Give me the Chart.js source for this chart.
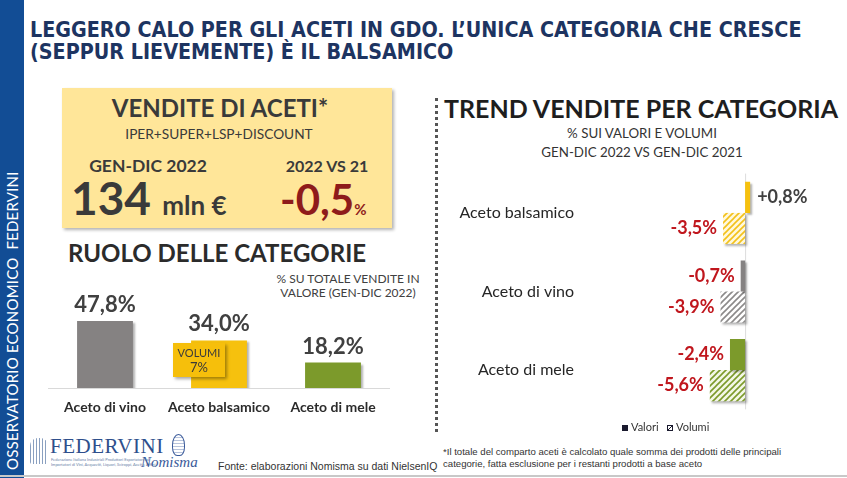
<!DOCTYPE html>
<html lang="it">
<head>
<meta charset="UTF-8">
<title>Aceti in GDO</title>
<script src="https://cdn.jsdelivr.net/npm/chart.js"></script>
<style>
    body { margin: 0; width: 847px; height: 478px; position: relative; overflow: hidden; background: #fff; font-family: Lato, "Open Sans", sans-serif; color: #3a3a3a; }
    .abs { position: absolute; white-space: nowrap; }
    .c { transform: translateX(-50%); }
    #side { left: 0; top: 0; width: 24px; height: 478px; background: #124d95; }
    #sideText { left: 12px; top: 470px; transform-origin: 0 0; transform: rotate(-90deg) translateY(-50%); color: #fff; font-size: 15px; letter-spacing: 0.2px; }
    #title { left: 30px; top: 19px; font-family: "Liberation Sans Narrow", "DejaVu Sans Condensed", sans-serif; font-weight: bold; font-size: 21.3px; line-height: 22px; color: #1d3461; }
    #box { left: 62px; top: 88px; width: 330px; height: 140px; background: #ffe699; box-shadow: 2px 2px 3px rgba(0,0,0,0.3); }
    .b { font-weight: bold; }
    #divider { left: 435px; top: 98px; height: 334px; border-left: 3px dotted #555; }
    #volumi { left: 173px; top: 343px; width: 52px; height: 34px; background: #f6bf0b; box-shadow: 2px 2px 3px rgba(0,0,0,0.35); text-align: center; font-size: 11px; line-height: 15px; color: #3a3a3a; padding-top: 2px; box-sizing: border-box; }
    #bottomLine { left: 0; top: 475px; width: 847px; height: 0; border-top: 2px solid #c8c8c8; }
    canvas { position: absolute; }
</style>
</head>
<body>
<div class="abs" id="side"></div>
<div class="abs" id="sideText">OSSERVATORIO ECONOMICO&nbsp;&nbsp;FEDERVINI</div>
<div class="abs" id="title">LEGGERO CALO PER GLI ACETI IN GDO. L’UNICA CATEGORIA CHE CRESCE<br>(SEPPUR LIEVEMENTE) È IL BALSAMICO</div>

<div class="abs" id="box"></div>
<div class="abs c b" style="left:220px; top:93px; font-size:24px;">VENDITE DI ACETI*</div>
<div class="abs c" style="left:219px; top:125px; font-size:13.7px;">IPER+SUPER+LSP+DISCOUNT</div>
<div class="abs c b" style="left:148px; top:155px; font-size:17.5px;">GEN-DIC 2022</div>
<div class="abs c b" style="left:327px; top:156px; font-size:16px;">2022 VS 21</div>
<div class="abs b" style="left:71px; top:174px; font-size:46px; line-height:48px;">134 <span style="font-size:26px;">mln €</span></div>
<div class="abs b" style="left:280px; top:176px; font-size:42px; line-height:46px; color:#8e1b1b;">-0,5<span style="font-size:15px;">%</span></div>

<div class="abs b" style="left:68px; top:238px; font-size:24px; color:#2b2b2b;">RUOLO DELLE CATEGORIE</div>
<div class="abs c" style="left:348px; top:272px; font-size:12px; line-height:14px; text-align:center; color:#404040;">% SU TOTALE VENDITE IN<br>VALORE (GEN-DIC 2022)</div>

<canvas id="shareChart" width="342" height="135" style="left:48px; top:290px; width:342px; height:135px;"></canvas>
<div class="abs" id="volumi">VOLUMI<br><span style="font-size:13px;">7%</span></div>

<div class="abs" id="divider"></div>

<div class="abs c b" style="left:641px; top:93px; font-size:25px; color:#1e1e1e;">TREND VENDITE PER CATEGORIA</div>
<div class="abs c" style="left:642px; top:124px; font-size:13.3px; line-height:19px; text-align:center; color:#333;">% SUI VALORI E VOLUMI<br>GEN-DIC 2022 VS GEN-DIC 2021</div>

<canvas id="trendChart" width="407" height="267" style="left:440px; top:157.5px; width:407px; height:267px;"></canvas>

<div class="abs" style="left:622px; top:420px; font-size:11px; color:#333;">
    <span style="display:inline-block; width:6px; height:6px; background:#1a1a2e; margin-right:3px;"></span>Valori&nbsp;&nbsp;
    <span style="display:inline-block; width:6px; height:6px; border:1px solid #1a1a2e; background:linear-gradient(135deg, #fff 40%, #1a1a2e 40%, #1a1a2e 60%, #fff 60%); box-sizing:border-box; margin-right:3px;"></span>Volumi
</div>

<div class="abs" style="left:30px; top:438px; width:18px; height:26px; background:repeating-linear-gradient(90deg, #8aa0c0 0 1px, #fff 1px 3px); border-radius:8px 8px 2px 2px;"></div>
<div class="abs" style="left:50px; top:434px; font-family:'Liberation Serif', 'DejaVu Serif', serif; font-size:21px; color:#2e4f8c; letter-spacing:0.5px;">FEDERVINI</div>
<div class="abs" style="left:51px; top:457px; font-size:4px; line-height:5px; color:#6a7fa8;">Federazione Italiana Industriali Produttori Esportatori ed<br>Importatori di Vini, Acquaviti, Liquori, Sciroppi, Aceti e Affini</div>
<div class="abs" style="left:172px; top:434px; width:11px; height:20px; border:1px solid #3a5a9a; border-radius:50% 50% 40% 40%; background:repeating-linear-gradient(0deg, #fff 0 2px, #b8c4dc 2px 3px);"></div>
<div class="abs" style="left:141px; top:454px; font-family:'Liberation Serif', 'DejaVu Serif', serif; font-style:italic; font-size:15px; color:#3a5a9a;">Nomisma</div>
<div class="abs" style="left:218px; top:460px; font-family:'Liberation Sans Narrow', sans-serif; font-size:10.5px; color:#333;">Fonte: elaborazioni Nomisma su dati NielsenIQ</div>
<div class="abs" style="left:443px; top:446px; font-family:'Liberation Sans Narrow', sans-serif; font-size:9.6px; line-height:12px; color:#333;">*Il totale del comparto aceti è calcolato quale somma dei prodotti delle principali<br>categorie, fatta esclusione per i restanti prodotti a base aceto</div>
<div class="abs" id="bottomLine"></div>

<script>
const shareCategories = ['Aceto di vino', 'Aceto balsamico', 'Aceto di mele'];
const shareValues = [47.8, 34.0, 18.2];
const shareColors = ['#858282', '#f6c10e', '#7c9a2b'];

const trendCategories = ['Aceto balsamico', 'Aceto di vino', 'Aceto di mele'];
const trendValori = [0.8, -0.7, -2.4];
const trendVolumi = [-3.5, -3.9, -5.6];
const trendColors = ['#f6c10e', '#858282', '#7c9a2b'];

function fmt(v, plus) {
    return (plus && v > 0 ? '+' : '') + v.toFixed(1).replace('.', ',') + '%';
}

function hatch(color, bg) {
    const c = document.createElement('canvas');
    c.width = 6; c.height = 6;
    const g = c.getContext('2d');
    g.fillStyle = bg;
    g.fillRect(0, 0, 6, 6);
    g.strokeStyle = color;
    g.lineWidth = 1.6;
    g.beginPath();
    g.moveTo(0, 6); g.lineTo(6, 0);
    g.moveTo(-1, 1); g.lineTo(1, -1);
    g.moveTo(5, 7); g.lineTo(7, 5);
    g.stroke();
    return g.createPattern(c, 'repeat');
}

const shadowPlugin = {
    id: 'shadow',
    beforeDatasetsDraw(chart) {
        const ctx = chart.ctx;
        ctx.save();
        ctx.shadowColor = 'rgba(0,0,0,0.3)';
        ctx.shadowOffsetX = 2;
        ctx.shadowOffsetY = 2;
        ctx.shadowBlur = 2;
    },
    afterDatasetsDraw(chart) {
        chart.ctx.restore();
    }
};

// left: share of value
new Chart(document.getElementById('shareChart'), {
    type: 'bar',
    data: {
        labels: shareCategories,
        datasets: [{ data: shareValues, backgroundColor: shareColors }]
    },
    options: {
        responsive: false,
        animation: false,
        layout: { padding: { top: 14 } },
        plugins: { legend: { display: false }, tooltip: { enabled: false } },
        datasets: { bar: { barPercentage: 0.49, categoryPercentage: 1 } },
        scales: {
            x: {
                grid: { display: false, drawTicks: false },
                border: { display: true, color: '#d9d9d9', width: 1 },
                ticks: { color: '#2b2b2b', font: { family: 'Lato', size: 14, weight: 'bold' }, padding: 11 },
                afterFit(s) { s.height = 37; }
            },
            y: { display: false, min: 0, max: 60 }
        }
    },
    plugins: [shadowPlugin, {
        id: 'shareLabels',
        afterDatasetsDraw(chart) {
            const ctx = chart.ctx;
            ctx.save();
            ctx.font = 'bold 22px Lato';
            ctx.fillStyle = '#404040';
            ctx.textAlign = 'center';
            ctx.textBaseline = 'bottom';
            chart.getDatasetMeta(0).data.forEach((bar, i) => {
                ctx.fillText(fmt(shareValues[i]), bar.x, bar.y - 5);
            });
            ctx.restore();
        }
    }]
});

// right: trend values & volumes
const volumiPatterns = [hatch('#f3c11a', '#fff8dc'), hatch('#8c8a8a', '#ffffff'), hatch('#7c9a2b', '#f3f7e6')];

new Chart(document.getElementById('trendChart'), {
    type: 'bar',
    data: {
        labels: trendCategories,
        datasets: [
            { label: 'Valori', data: trendValori, backgroundColor: trendColors },
            { label: 'Volumi', data: trendVolumi, backgroundColor: volumiPatterns }
        ]
    },
    options: {
        indexAxis: 'y',
        responsive: false,
        animation: false,
        layout: { padding: { top: 0, bottom: 0, right: 89.3 } },
        plugins: { legend: { display: false }, tooltip: { enabled: false } },
        datasets: { bar: { barPercentage: 1, categoryPercentage: 0.79 } },
        scales: {
            x: { display: false, min: -26.2, max: 2 },
            y: {
                grid: { display: false, drawTicks: false },
                border: { display: false },
                ticks: { color: '#262626', font: { family: 'Lato', size: 16 }, padding: 6 },
                afterFit(s) { s.width = 140; }
            }
        }
    },
    plugins: [{
        id: 'zeroLine',
        beforeDatasetsDraw(chart) {
            const ctx = chart.ctx;
            const x0 = chart.scales.x.getPixelForValue(0);
            ctx.save();
            ctx.strokeStyle = '#dcdcdc';
            ctx.lineWidth = 1;
            ctx.beginPath();
            ctx.moveTo(x0 + 0.5, chart.chartArea.top);
            ctx.lineTo(x0 + 0.5, chart.chartArea.bottom);
            ctx.stroke();
            ctx.restore();
        }
    }, shadowPlugin, {
        id: 'trendLabels',
        afterDatasetsDraw(chart) {
            const ctx = chart.ctx;
            ctx.save();
            ctx.font = 'bold 18px Lato';
            ctx.textBaseline = 'middle';
            [trendValori, trendVolumi].forEach((series, d) => {
                chart.getDatasetMeta(d).data.forEach((bar, i) => {
                    const v = series[i];
                    if (v >= 0) {
                        ctx.fillStyle = '#404040';
                        ctx.textAlign = 'left';
                        ctx.fillText(fmt(v, true), bar.x + 7, bar.y);
                    } else {
                        ctx.fillStyle = '#c0161d';
                        ctx.textAlign = 'right';
                        ctx.fillText(fmt(v, true), bar.x - 6, bar.y);
                    }
                });
            });
            ctx.restore();
        }
    }]
});
</script>
</body>
</html>
